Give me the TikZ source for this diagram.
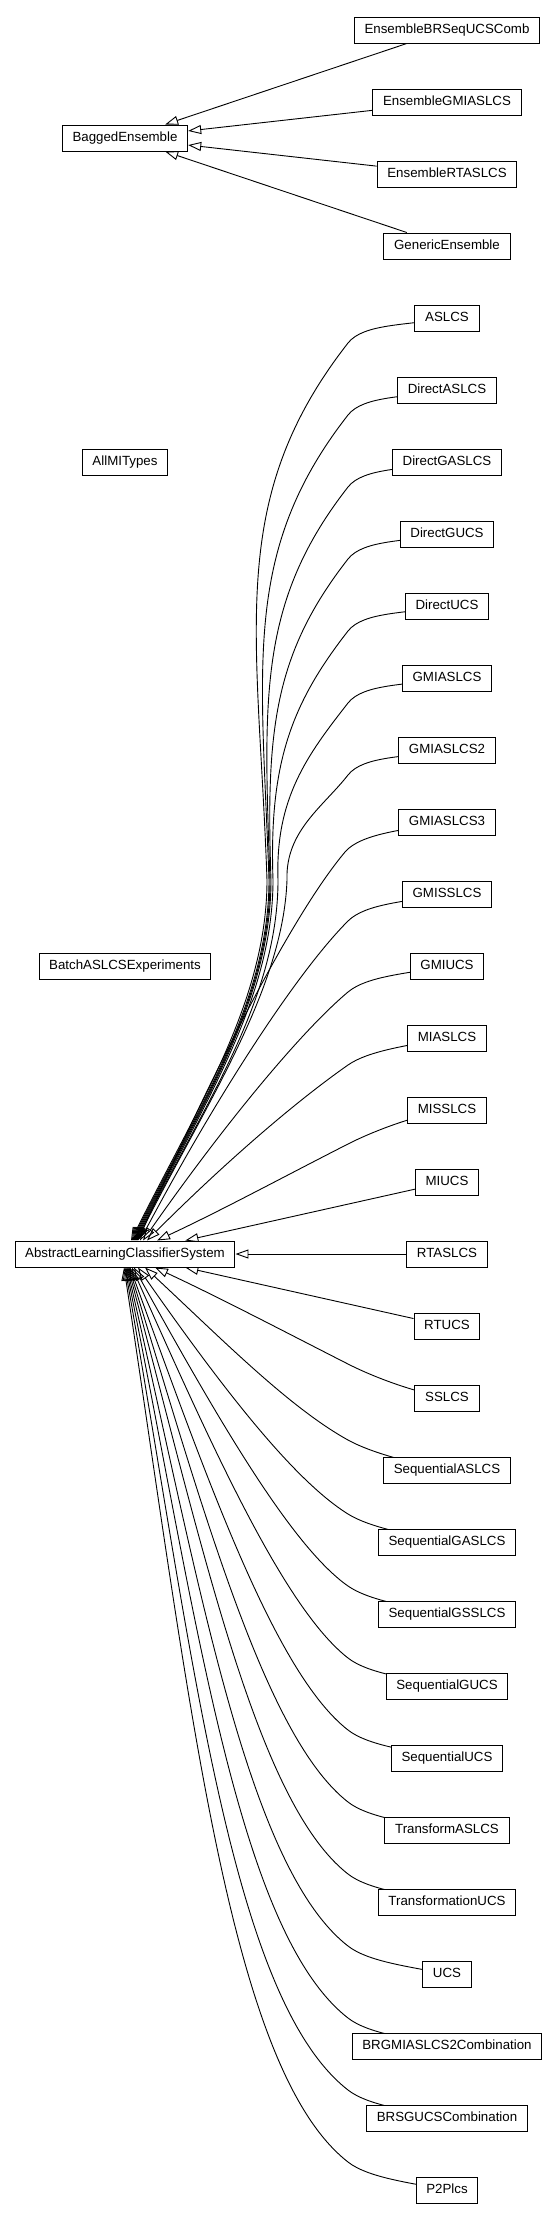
\documentclass[tikz,border=0pt]{standalone}
\usepackage{fontspec}
\setmainfont{Liberation Sans}
\usetikzlibrary{arrows.meta}
\pgfdeclarelayer{bg}
\pgfsetlayers{bg,main}
\begin{document}
\begin{tikzpicture}[x=1pt,y=-1pt,
  cls/.style={draw=black, line width=1pt, fill=white, rectangle, minimum height=26pt,
    inner xsep=10.2pt, inner ysep=0pt, text height=9.6pt, text depth=2.8pt,
    font=\fontsize{13.3}{15}\selectfont},
  arr/.style={draw=black, line width=0.9pt, -{Triangle[open,length=13pt,width=9pt]}}]
\useasboundingbox (0,0) rectangle (557,2219);
% left column
\node[cls] (bagged) at (125,138) {BaggedEnsemble};
\node[cls] (allmi) at (125,462) {AllMITypes};
\node[cls] (batch) at (125,966) {BatchASLCSExperiments};
\node[cls] (alcs) at (125,1254) {AbstractLearningClassifierSystem};
% right column, ensemble group
\node[cls] (ebrs) at (447,30) {EnsembleBRSeqUCSComb};
\node[cls] (egmi) at (447,102) {EnsembleGMIASLCS};
\node[cls] (ert) at (447,174) {EnsembleRTASLCS};
\node[cls] (gen) at (447,246) {GenericEnsemble};
% right column, LCS group
\node[cls] (aslcs) at (447,318) {ASLCS};
\node[cls] (daslcs) at (447,390) {DirectASLCS};
\node[cls] (dgaslcs) at (447,462) {DirectGASLCS};
\node[cls] (dgucs) at (447,534) {DirectGUCS};
\node[cls] (ducs) at (447,606) {DirectUCS};
\node[cls] (gmiaslcs) at (447,678) {GMIASLCS};
\node[cls] (gmiaslcs2) at (447,750) {GMIASLCS2};
\node[cls] (gmiaslcs3) at (447,822) {GMIASLCS3};
\node[cls] (gmisslcs) at (447,894) {GMISSLCS};
\node[cls] (gmiucs) at (447,966) {GMIUCS};
\node[cls] (miaslcs) at (447,1038) {MIASLCS};
\node[cls] (misslcs) at (447,1110) {MISSLCS};
\node[cls] (miucs) at (447,1182) {MIUCS};
\node[cls] (rtaslcs) at (447,1254) {RTASLCS};
\node[cls] (rtucs) at (447,1326) {RTUCS};
\node[cls] (sslcs) at (447,1398) {SSLCS};
\node[cls] (saslcs) at (447,1470) {SequentialASLCS};
\node[cls] (sgaslcs) at (447,1542) {SequentialGASLCS};
\node[cls] (sgsslcs) at (447,1614) {SequentialGSSLCS};
\node[cls] (sgucs) at (447,1686) {SequentialGUCS};
\node[cls] (sucs) at (447,1758) {SequentialUCS};
\node[cls] (taslcs) at (447,1830) {TransformASLCS};
\node[cls] (tucs) at (447,1902) {TransformationUCS};
\node[cls] (ucs) at (447,1974) {UCS};
\node[cls] (brgmi) at (447,2046) {BRGMIASLCS2Combination};
\node[cls] (brsg) at (447,2118) {BRSGUCSCombination};
\node[cls] (ptwo) at (447,2190) {P2Plcs};

\begin{pgfonlayer}{bg}
% ensemble edges
\draw[arr] (ebrs) -- (bagged);
\draw[arr] (egmi) -- (bagged);
\draw[arr] (ert) -- (bagged);
\draw[arr] (gen) -- (bagged);
% upper far edges (through the waist)
\draw[arr] (aslcs.center) .. controls +(169:40) and +(308:25) .. (348,343) .. controls +(128:200) and +(268:250) .. (267,880) .. controls +(90:120) and +(-63.4:150) .. ([xshift=6pt]alcs.north);
\draw[arr] (daslcs.center) .. controls +(169:40) and +(308:25) .. (348,415) .. controls +(128:173) and +(268:216) .. (269,880) .. controls +(90:120) and +(-63.4:150) .. ([xshift=7pt]alcs.north);
\draw[arr] (dgaslcs.center) .. controls +(169:40) and +(308:25) .. (348,487) .. controls +(128:146) and +(268:183) .. (270,880) .. controls +(90:120) and +(-63.4:150) .. ([xshift=8pt]alcs.north);
\draw[arr] (dgucs.center) .. controls +(169:40) and +(308:25) .. (348,559) .. controls +(128:120) and +(268:150) .. (271,880) .. controls +(90:120) and +(-63.4:150) .. ([xshift=9pt]alcs.north);
\draw[arr] (ducs.center) .. controls +(169:40) and +(308:25) .. (348,631) .. controls +(128:93) and +(268:116) .. (273,880) .. controls +(90:120) and +(-63.4:150) .. ([xshift=10pt]alcs.north);
\draw[arr] (gmiaslcs.center) .. controls +(169:40) and +(308:25) .. (348,703) .. controls +(128:66) and +(268:82) .. (278,880) .. controls +(90:120) and +(-63.4:150) .. ([xshift=11pt]alcs.north);
\draw[arr] (gmiaslcs2.center) .. controls +(169:40) and +(308:25) .. (348,775) .. controls +(128:40) and +(268:49) .. (287,880) .. controls +(92:110) and +(-63.4:150) .. ([xshift=12pt]alcs.north);
% upper near edges
\draw[arr] (gmiaslcs3.center) .. controls +(169:40) and +(310:25) .. (345,852) .. controls +(130:80) and +(-66:198) .. ([xshift=13pt]alcs.north);
\draw[arr] (gmisslcs.center) .. controls +(169:40) and +(315:25) .. (348,921) .. controls +(135:69) and +(-62:172) .. ([xshift=15pt]alcs.north);
\draw[arr] (gmiucs.center) .. controls +(169:40) and +(320:25) .. (348,992) .. controls +(140:60) and +(-55:145) .. ([xshift=18pt]alcs.north);
\draw[arr] (miaslcs.center) .. controls +(169:40) and +(325:25) .. (348,1065) .. controls +(145:67) and +(-45:107) .. ([xshift=22pt]alcs.north);
\draw[arr] (misslcs.center) .. controls +(169:40) and +(333:25) .. (348,1144) .. controls +(153:71) and +(-25:71) .. ([xshift=32pt]alcs.north);
\draw[arr] (miucs) -- (alcs);
\draw[arr] (rtaslcs) -- (alcs);
\draw[arr] (rtucs) -- (alcs);
% lower edges
\draw[arr] (sslcs.center) .. controls +(191:40) and +(27:25) .. (348,1364) .. controls +(207:72) and +(25:72) .. ([xshift=30pt]alcs.south);
\draw[arr] (saslcs.center) .. controls +(191:40) and +(29:25) .. (348,1440) .. controls +(209:67) and +(43:107) .. ([xshift=20pt]alcs.south);
\draw[arr] (sgaslcs.center) .. controls +(191:40) and +(32:25) .. (348,1514) .. controls +(212:65) and +(55:146) .. ([xshift=13pt]alcs.south);
\draw[arr] (sgsslcs.center) .. controls +(191:40) and +(35:25) .. (348,1586) .. controls +(215:69) and +(61:173) .. ([xshift=9pt]alcs.south);
\draw[arr] (sgucs.center) .. controls +(191:40) and +(38:25) .. (348,1658) .. controls +(218:80) and +(66:201) .. ([xshift=7pt]alcs.south);
\draw[arr] (sucs.center) .. controls +(191:40) and +(38:25) .. (348,1730) .. controls +(218:92) and +(70:230) .. ([xshift=5pt]alcs.south);
\draw[arr] (taslcs.center) .. controls +(191:40) and +(38:25) .. (348,1802) .. controls +(218:104) and +(73:260) .. ([xshift=4pt]alcs.south);
\draw[arr] (tucs.center) .. controls +(191:40) and +(38:25) .. (348,1874) .. controls +(218:116) and +(75:291) .. ([xshift=3pt]alcs.south);
\draw[arr] (ucs.center) .. controls +(191:40) and +(38:25) .. (348,1946) .. controls +(218:129) and +(77:321) .. ([xshift=2pt]alcs.south);
\draw[arr] (brgmi.center) .. controls +(191:40) and +(38:25) .. (348,2018) .. controls +(218:141) and +(78.5:352) .. ([xshift=1pt]alcs.south);
\draw[arr] (brsg.center) .. controls +(191:40) and +(38:25) .. (348,2090) .. controls +(218:150) and +(80:390) .. (alcs.south);
\draw[arr] (ptwo.center) .. controls +(191:40) and +(38:25) .. (348,2162) .. controls +(218:150) and +(81.4:450) .. ([xshift=-1pt]alcs.south);
\end{pgfonlayer}
\end{tikzpicture}
\end{document}
